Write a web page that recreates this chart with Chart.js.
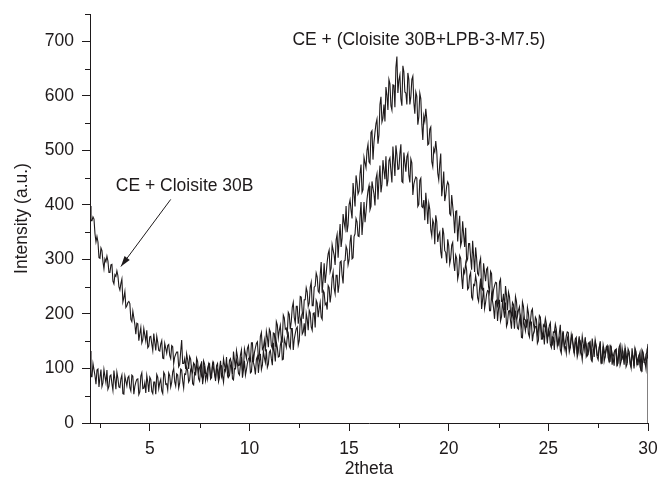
<!DOCTYPE html>
<html>
<head>
<meta charset="utf-8">
<script src="https://cdn.jsdelivr.net/npm/chart.js@4/dist/chart.umd.min.js"></script>
<style>
  body { margin: 0; background: #fff; }
  #xrd-chart { display: block; }
</style>
</head>
<body>
<canvas id="xrd-chart" width="660" height="484"></canvas>
<script>
// scan: 2theta from 2 to 30, one reading every 0.05 deg
const startAngle = 2;
const stepAngle = 0.05;

// CE + Cloisite 30B
const cloisiteCounts = [
  398,371,371,378,374,347,332,342,332,303,302,321,316,296,283,301,296,306,297,276,
  276,290,291,260,255,272,269,279,270,250,244,256,264,222,230,241,212,215,221,223,
  219,190,186,205,193,181,163,183,182,151,164,175,147,153,173,161,150,170,138,141,
  158,159,145,133,164,148,133,159,148,133,132,145,151,119,118,146,137,128,142,144,
  124,118,142,140,109,121,126,130,130,103,107,131,152,109,109,118,99,127,116,99,
  122,117,96,92,110,107,87,119,113,93,102,106,86,81,114,108,91,91,81,108,
  102,83,91,107,111,90,82,101,98,76,84,106,105,87,75,98,96,110,104,84,
  87,105,110,81,79,100,101,116,109,91,88,108,121,83,97,114,88,98,110,118,
  120,92,94,120,111,103,89,117,122,92,112,127,98,106,132,120,111,135,102,108,
  130,133,118,106,147,130,113,149,138,121,122,142,152,116,117,155,147,139,158,164,
  141,137,173,173,134,154,164,173,176,143,151,188,196,163,167,183,159,201,190,170,
  207,202,176,170,201,202,175,225,220,194,210,221,194,190,243,239,217,220,208,252,
  248,221,237,266,277,247,237,271,271,239,255,295,297,271,256,297,298,324,318,290,
  299,332,345,301,303,342,347,375,369,343,342,378,405,345,372,405,368,387,410,426,
  435,391,397,443,431,420,399,448,457,410,446,472,423,438,482,463,447,489,434,445,
  481,486,462,441,507,480,453,509,492,465,466,494,511,443,441,496,478,461,488,494,
  454,441,484,477,418,438,446,451,449,397,401,445,449,397,395,409,372,422,399,365,
  403,392,354,343,372,366,328,381,369,332,345,350,314,302,358,347,316,313,293,337,
  325,292,302,326,331,295,279,308,302,264,274,307,302,268,246,281,275,293,280,245,
  248,270,276,231,227,254,252,270,258,230,223,248,265,209,226,248,210,221,236,243,
  242,206,206,236,223,211,191,223,225,187,209,226,187,195,224,208,193,221,177,183,
  205,206,188,173,212,193,173,206,193,174,172,189,196,157,156,191,180,169,186,189,
  164,158,187,185,150,164,171,177,177,146,151,180,185,154,155,166,144,178,166,146,
  172,167,144,138,158,157,134,169,163,141,151,156,134,128,165,159,140,140,128,158,
  152,130,138,156,161,137,127,149,146,121,129,154,151,130,116,141,139,153,145,123,
  126,144,148,116,113,135,135,149,141,121,116,136,150,108,122,140,113,122,133,140,
  141,112,113,138,128,119,105,132,135,104,123,137,106,113,138,125,114,137,103,108,
  127,129,114,102,137,121,104,135,123,107,107,123,130,96,95,128,119,110,126,129,
  145
];
// last reading of that scan is 0 at 30 deg
const cloisiteTail = [30, 0];

// CE + (Cloisite 30B+LPB-3-M7.5)
const lpbCounts = [
  132,85,85,109,98,87,71,97,99,66,84,98,67,74,98,85,74,97,62,67,
  86,88,72,60,96,80,62,93,82,66,65,81,88,54,53,86,77,68,83,86,
  65,59,88,86,53,67,75,80,81,52,57,86,92,63,64,74,55,87,75,57,
  84,80,58,54,75,75,53,89,84,63,74,80,59,54,93,89,71,72,61,92,
  87,66,75,94,100,76,68,90,88,64,73,99,97,77,64,90,89,103,96,75,
  79,98,103,72,70,93,93,107,100,81,77,98,113,71,86,105,78,88,100,107,
  109,81,83,109,100,91,77,105,109,79,99,114,85,92,118,106,97,121,87,93,
  115,118,103,90,131,115,98,133,122,105,106,125,134,97,98,136,127,118,137,142,
  119,114,147,147,112,129,138,146,149,118,125,159,166,135,138,152,131,168,157,139,
  172,167,142,137,165,164,140,186,180,156,170,179,154,150,198,193,172,174,163,203,
  199,172,186,212,221,193,183,214,214,182,196,232,231,205,191,226,226,248,240,214,
  220,249,258,215,215,249,251,275,268,242,239,271,295,239,263,293,257,274,295,310,
  317,277,284,327,317,308,290,336,346,303,338,365,323,339,383,368,357,398,350,363,
  400,409,390,375,440,419,397,454,441,420,425,457,474,423,428,487,477,468,500,511,
  479,476,533,536,483,515,533,549,557,512,528,584,598,552,559,584,553,616,601,574,
  630,622,582,574,620,619,579,652,672,605,629,638,594,582,655,644,607,605,584,642,
  630,584,598,630,636,588,567,607,599,547,561,605,595,548,519,563,553,576,557,510,
  512,539,543,479,470,503,497,517,498,458,446,475,494,416,435,461,407,418,435,442,
  437,384,381,418,398,378,348,388,389,333,360,380,325,333,370,345,323,358,296,301,
  329,329,303,281,334,306,277,322,302,274,271,294,302,247,244,293,276,260,282,285,
  250,240,278,274,226,244,252,258,257,215,220,259,264,223,223,237,207,251,234,207,
  240,232,204,196,221,217,189,232,223,196,207,213,184,177,222,214,190,189,175,212,
  202,177,186,205,209,182,171,194,190,161,170,197,194,169,153,180,177,192,182,157,
  160,179,184,147,144,167,166,181,172,149,144,165,180,134,149,168,137,147,160,167,
  166,137,138,162,152,143,128,154,157,126,145,159,128,135,159,145,134,157,122,127,
  146,148,132,120,155,139,121,152,140,124,123,139,145,111,110,143,133,124,139,142,
  120,114,142,140,107,121,129,134,135,106,110,139,144,115,117,127,107,139,128,110,
  136,131,108,103,124,123,100,136,131,109,119,124,103,97,134,129,111,111,99,129,
  118
];

const xMajorTicks = [5, 10, 15, 20, 25, 30];
const yMajorTicks = [0, 100, 200, 300, 400, 500, 600, 700];

const labelTop = 'CE + (Cloisite 30B+LPB-3-M7.5)';
const labelLeft = 'CE + Cloisite 30B';

function toPoints(counts) {
  return counts.map((v, i) => ({ x: +(startAngle + i * stepAngle).toFixed(2), y: v }));
}

let cloisitePoints = toPoints(cloisiteCounts);
cloisitePoints.push({ x: cloisiteTail[0], y: cloisiteTail[1] });
let lpbPoints = toPoints(lpbCounts);

const inkColor = '#1e1a1b';
const fontFamily = 'Liberation Sans, Arial, sans-serif';

// short minor ticks and the two labels with arrow
const extrasPlugin = {
  id: 'extras',
  afterDraw(chart) {
    const ctx = chart.ctx;
    const xs = chart.scales.x, ys = chart.scales.y;
    ctx.save();
    ctx.strokeStyle = inkColor;
    ctx.lineWidth = 1;
    ctx.beginPath();
    xs.ticks.forEach(t => {
      if (xMajorTicks.includes(t.value)) return;
      const px = Math.round(xs.getPixelForValue(t.value)) + 0.5;
      ctx.moveTo(px, xs.top);
      ctx.lineTo(px, xs.top + 5);
    });
    ys.ticks.forEach(t => {
      if (yMajorTicks.includes(t.value)) return;
      const py = Math.round(ys.getPixelForValue(t.value)) + 0.5;
      ctx.moveTo(ys.right, py);
      ctx.lineTo(ys.right - 5, py);
    });
    ctx.stroke();

    ctx.fillStyle = inkColor;
    ctx.font = '17.5px ' + fontFamily;
    ctx.textAlign = 'center';
    ctx.textBaseline = 'middle';
    ctx.fillText(labelTop, xs.getPixelForValue(18.5), ys.getPixelForValue(702));
    ctx.fillText(labelLeft, xs.getPixelForValue(6.75), ys.getPixelForValue(434));

    // arrow to the Cloisite curve
    const x1 = xs.getPixelForValue(6.05), y1 = ys.getPixelForValue(410);
    const x2 = xs.getPixelForValue(3.55), y2 = ys.getPixelForValue(287);
    ctx.beginPath();
    ctx.moveTo(x1, y1);
    ctx.lineTo(x2, y2);
    ctx.stroke();
    const ang = Math.atan2(y2 - y1, x2 - x1);
    ctx.beginPath();
    ctx.moveTo(x2, y2);
    ctx.lineTo(x2 - 11 * Math.cos(ang - 0.3), y2 - 11 * Math.sin(ang - 0.3));
    ctx.lineTo(x2 - 11 * Math.cos(ang + 0.3), y2 - 11 * Math.sin(ang + 0.3));
    ctx.closePath();
    ctx.fill();
    ctx.restore();
  }
};

const xrdChart = new Chart(document.getElementById('xrd-chart'), {
  type: 'line',
  data: {
    datasets: [
      { label: labelLeft, data: cloisitePoints, borderColor: inkColor, borderWidth: 1.1, pointRadius: 0, tension: 0 },
      { label: labelTop, data: lpbPoints, borderColor: inkColor, borderWidth: 1.1, pointRadius: 0, tension: 0 }
    ]
  },
  options: {
    responsive: false,
    animation: false,
    layout: { padding: { top: 14, right: 12, left: 0, bottom: 0 } },
    plugins: { legend: { display: false }, tooltip: { enabled: false } },
    scales: {
      x: {
        type: 'linear',
        min: 2,
        max: 30,
        afterBuildTicks: s => {
          const t = [];
          for (let v = 2.5; v <= 30; v += 2.5) t.push({ value: v });
          s.ticks = t;
        },
        afterFit: s => { s.height = 61; s.paddingLeft = 0; s.paddingRight = 0; },
        border: { display: true, color: inkColor, width: 1 },
        grid: {
          drawOnChartArea: false,
          tickLength: 8,
          tickColor: c => xMajorTicks.includes(c.tick.value) ? inkColor : 'rgba(0,0,0,0)'
        },
        ticks: {
          color: inkColor,
          font: { family: fontFamily, size: 17.5 },
          maxRotation: 0,
          autoSkip: false,
          padding: 8,
          callback: v => xMajorTicks.includes(v) ? String(v) : ''
        },
        title: {
          display: true,
          text: '2theta',
          color: inkColor,
          font: { family: fontFamily, size: 17.5 },
          padding: { top: 0, bottom: 4 }
        }
      },
      y: {
        min: 0,
        max: 750,
        afterBuildTicks: s => {
          const t = [];
          for (let v = 0; v <= 750; v += 50) t.push({ value: v });
          s.ticks = t;
        },
        afterFit: s => { s.width = 90; s.paddingTop = 0; s.paddingBottom = 0; },
        border: { display: true, color: inkColor, width: 1 },
        grid: {
          drawOnChartArea: false,
          tickLength: 8,
          tickColor: c => yMajorTicks.includes(c.tick.value) ? inkColor : 'rgba(0,0,0,0)'
        },
        ticks: {
          color: inkColor,
          font: { family: fontFamily, size: 17.5 },
          autoSkip: false,
          padding: 8,
          callback: v => yMajorTicks.includes(v) ? String(v) : ''
        },
        title: {
          display: true,
          text: 'Intensity (a.u.)',
          color: inkColor,
          font: { family: fontFamily, size: 17.5 },
          padding: { top: 12, bottom: 4 }
        }
      }
    }
  },
  plugins: [extrasPlugin]
});
</script>
</body>
</html>
